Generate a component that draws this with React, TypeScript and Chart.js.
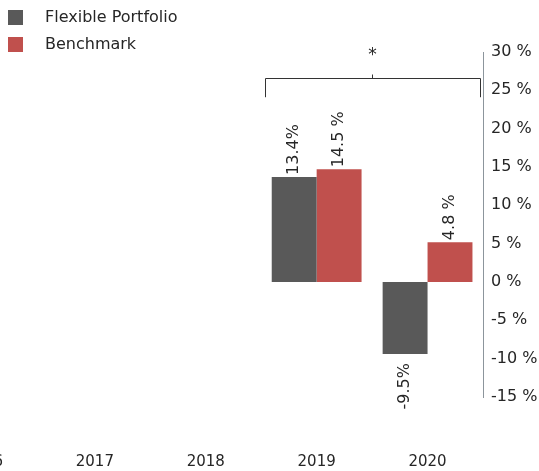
import React, { useEffect, useRef } from "react";
import { Chart, registerables } from "chart.js";

Chart.register(...registerables);

const categories = ["2016", "2017", "2018", "2019", "2020"];
const flexibleValues = [null, null, null, 13.7, -9.4];
const benchmarkValues = [null, null, null, 14.7, 5.2];
const flexibleLabels = ["", "", "", "13.4%", "-9.5%"];
const benchmarkLabels = ["", "", "", "14.5 %", "4.8 %"];
const seriesNames = ["Flexible Portfolio", "Benchmark"];
const seriesColors = ["#595959", "#c0504d"];
const yMin = -15;
const yMax = 30;
const yStep = 5;
const bracketFrom = "2019";
const bracketTo = "2020";
const bracketLabel = "*";
const bracketLevel = 26.6;
const bracketFoot = 24.1;

const OFFSET_X = 80;
const W = 539 + OFFSET_X;
const H = 471;
const FONT = "DejaVu Sans";
const TEXT = "#262626";

const valueLabelPlugin = {
  id: "valueLabels",
  afterDatasetsDraw(chart: any) {
    const ctx = chart.ctx;
    const labelSets = [flexibleLabels, benchmarkLabels];
    chart.data.datasets.forEach((ds: any, di: number) => {
      const meta = chart.getDatasetMeta(di);
      meta.data.forEach((bar: any, i: number) => {
        const v = ds.data[i];
        const txt = labelSets[di][i];
        if (v === null || !txt) return;
        ctx.save();
        ctx.font = `16px "${FONT}"`;
        ctx.fillStyle = TEXT;
        ctx.textBaseline = "middle";
        if (v >= 0) {
          ctx.translate(bar.x, bar.y - 2);
          ctx.rotate(-Math.PI / 2);
          ctx.textAlign = "left";
        } else {
          ctx.translate(bar.x, bar.y + 9);
          ctx.rotate(-Math.PI / 2);
          ctx.textAlign = "right";
        }
        ctx.fillText(txt, 0, 0);
        ctx.restore();
      });
    });
  },
};

const bracketPlugin = {
  id: "bracket",
  afterDatasetsDraw(chart: any) {
    const ctx = chart.ctx;
    const x = chart.scales.x;
    const y = chart.scales.y;
    const i1 = categories.indexOf(bracketFrom);
    const i2 = categories.indexOf(bracketTo);
    const half = x.getPixelForValue(1) - x.getPixelForValue(0);
    const x1 = x.getPixelForValue(i1) - half * 0.47;
    const x2 = x.getPixelForValue(i2) + half * 0.475;
    const yl = Math.round(y.getPixelForValue(bracketLevel)) + 0.5;
    const yf = y.getPixelForValue(bracketFoot);
    const xm = Math.round((x1 + x2) / 2) + 0.5;
    ctx.save();
    ctx.strokeStyle = "#333333";
    ctx.lineWidth = 1;
    ctx.beginPath();
    ctx.moveTo(Math.round(x1) + 0.5, yf);
    ctx.lineTo(Math.round(x1) + 0.5, yl);
    ctx.lineTo(Math.round(x2) + 0.5, yl);
    ctx.lineTo(Math.round(x2) + 0.5, yf);
    ctx.moveTo(xm, yl);
    ctx.lineTo(xm, yl - 4);
    ctx.stroke();
    ctx.font = `17px "${FONT}"`;
    ctx.fillStyle = TEXT;
    ctx.textAlign = "center";
    ctx.textBaseline = "middle";
    ctx.fillText(bracketLabel, xm, yl - 23);
    ctx.restore();
  },
};

const legendPlugin = {
  id: "customLegend",
  afterDraw(chart: any) {
    const ctx = chart.ctx;
    ctx.save();
    chart.data.datasets.forEach((ds: any, i: number) => {
      const top = 10 + i * 27;
      ctx.fillStyle = ds.backgroundColor;
      ctx.fillRect(OFFSET_X + 8, top, 15, 15);
      ctx.font = `16px "${FONT}"`;
      ctx.fillStyle = TEXT;
      ctx.textAlign = "left";
      ctx.textBaseline = "middle";
      ctx.fillText(ds.label, OFFSET_X + 45, top + 8);
    });
    ctx.restore();
  },
};

export default function App() {
  const ref = useRef<HTMLCanvasElement>(null);
  useEffect(() => {
    if (!ref.current) return;
    document.body.style.overflow = "hidden";
    const chart = new Chart(ref.current, {
      type: "bar",
      data: {
        labels: categories,
        datasets: [
          {
            label: seriesNames[0],
            data: flexibleValues,
            backgroundColor: seriesColors[0],
            categoryPercentage: 0.81,
            barPercentage: 1,
          },
          {
            label: seriesNames[1],
            data: benchmarkValues,
            backgroundColor: seriesColors[1],
            categoryPercentage: 0.81,
            barPercentage: 1,
          },
        ],
      },
      options: {
        responsive: false,
        animation: false,
        devicePixelRatio: 1,
        layout: { padding: { left: 8.5, top: 52, right: 0, bottom: 0 } },
        plugins: {
          legend: { display: false },
          tooltip: { enabled: false },
        },
        scales: {
          x: {
            grid: { display: false, drawTicks: false },
            border: { display: false },
            ticks: {
              color: TEXT,
              font: { family: FONT, size: 15 },
              padding: 56,
              maxRotation: 0,
            },
            afterFit: (s: any) => {
              s.height = 74;
              s.paddingLeft = 0;
              s.paddingRight = 0;
            },
          },
          y: {
            position: "right",
            min: yMin,
            max: yMax,
            grid: { display: false, drawTicks: false },
            border: { display: true, color: "#8c959c", width: 1 },
            ticks: {
              stepSize: yStep,
              color: TEXT,
              font: { family: FONT, size: 16 },
              padding: 8,
              callback: (v: any) => `${v} %`,
            },
            afterFit: (s: any) => {
              s.width = 56;
            },
          },
        },
      },
      plugins: [valueLabelPlugin, bracketPlugin, legendPlugin],
    });
    return () => chart.destroy();
  }, []);
  return (
    <div style={{ position: "absolute", left: -OFFSET_X, top: 0, width: W, height: H }}>
      <canvas ref={ref} width={W} height={H} style={{ width: W, height: H, display: "block" }} />
    </div>
  );
}
